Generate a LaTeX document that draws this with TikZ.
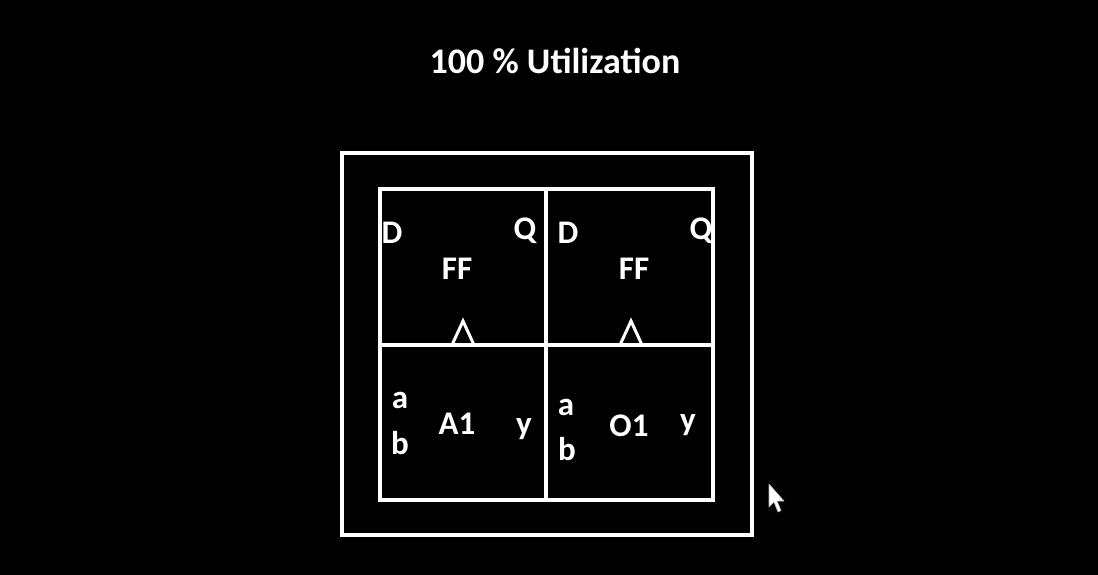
\documentclass[tikz,border=0pt]{standalone}
\usepackage{fontspec}
\setmainfont{Carlito}
\begin{document}
\begin{tikzpicture}[x=1pt,y=-1pt,
  box/.style={draw=white,line width=3.5pt},
  lbl/.style={text=white,font=\bfseries\fontsize{33}{33}\selectfont,inner sep=0pt,anchor=center},
  clk/.style={draw=white,line width=3pt,line join=miter}]
\fill[black] (0,0) rectangle (1098,575);
\useasboundingbox (0,0) rectangle (1098,575);
\node[text=white,font=\bfseries\fontsize{36}{36}\selectfont,inner sep=0pt] (title) at (555,61) {100 \% Utilization};
% outer square
\draw[box] (342,153) rectangle (752,535);
% inner cells
\draw[box] (380,189) rectangle (546,345);
\draw[box] (546,189) rectangle (713,345);
\draw[box] (380,345) rectangle (546,500);
\draw[box] (546,345) rectangle (713,500);
% flip-flop labels
\node[lbl] (d1) at (392,233) {D};
\node[lbl] (q1) at (525,231) {Q};
\node[lbl] (ff1) at (457,269) {FF};
\node[lbl] (d2) at (568,233) {D};
\node[lbl] (q2) at (701,231) {Q};
\node[lbl] (ff2) at (634,269) {FF};
% clock triangles
\draw[clk] (452,345) -- (463,321) -- (474,345);
\draw[clk] (620,345) -- (631,321) -- (642,345);
% gate labels
\node[lbl] (a1) at (400,400) {a};
\node[lbl] (b1) at (400,443) {b};
\node[lbl] (g1) at (457,424) {A1};
\node[lbl] (y1) at (524,429) {y};
\node[lbl] (a2) at (566,407) {a};
\node[lbl] (b2) at (567,449) {b};
\node[lbl] (g2) at (629,426) {O1};
\node[lbl] (y2) at (688,425) {y};
% mouse pointer
\filldraw[fill=white,draw=gray!60,line width=0.6pt,line join=round]
  (769,484) -- (769,507) -- (774,502) -- (778,512) -- (781,510.5) -- (777,501) -- (784,501) -- cycle;
\end{tikzpicture}
\end{document}
